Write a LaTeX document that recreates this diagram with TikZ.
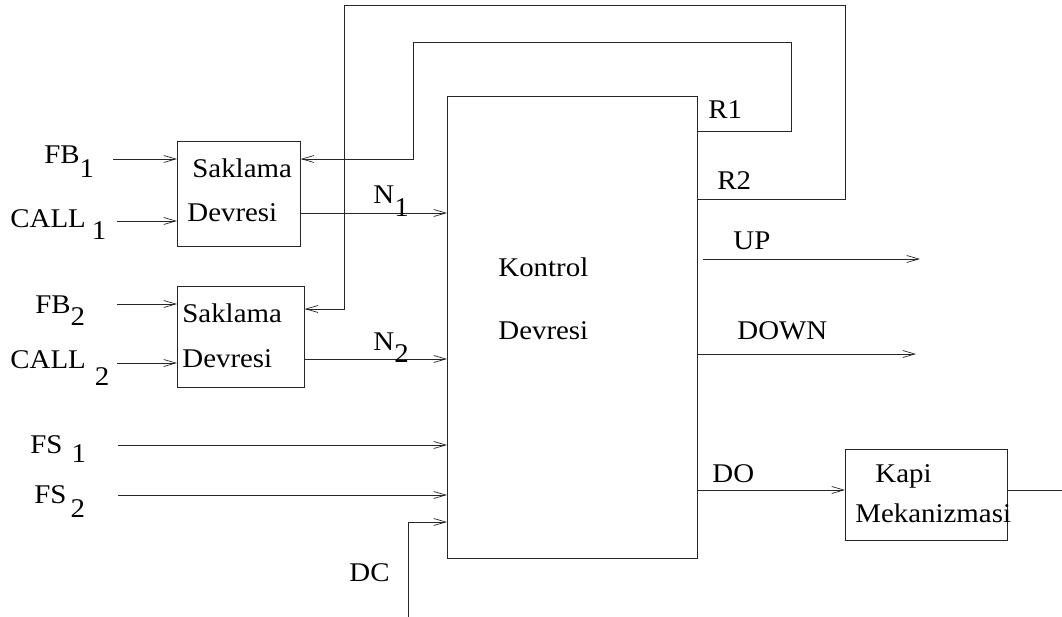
\documentclass[tikz,border=0pt]{standalone}
\usepackage{fontspec}
\setmainfont{Liberation Serif}[FakeStretch=1.07]
\usetikzlibrary{arrows.meta}
\begin{document}
\begin{tikzpicture}[x=1pt,y=-1pt,
  line width=0.8pt, draw=black!85,
  blk/.style={draw, line width=0.8pt, inner sep=0pt, anchor=north west},
  lbl/.style={inner sep=0pt, anchor=base west, font=\fontsize{27}{30}\selectfont},
  arr/.style={-{Straight Barb[length=12pt,width=7pt,line width=0.7pt]}},
  wire/.style={line width=0.8pt}]
\useasboundingbox (0,0) rectangle (1062,617);

% blocks
\node[blk, minimum width=250pt, minimum height=462pt] (kd) at (447,96) {};
\node[blk, minimum width=123pt, minimum height=105pt] (s1) at (177,141) {};
\node[blk, minimum width=127pt, minimum height=101pt] (s2) at (177,286) {};
\node[blk, minimum width=162pt, minimum height=91pt] (kp) at (845,449) {};

% free ends
\coordinate (fb1) at (113,159);
\coordinate (call1) at (117,221);
\coordinate (fb2) at (117,304);
\coordinate (call2) at (117,363);
\coordinate (fs1) at (118,445);
\coordinate (fs2) at (118,495);
\coordinate (dc) at (408,617);
\coordinate (up) at (920,259);
\coordinate (down) at (916,354);
\coordinate (out) at (1062,490);

% inputs
\draw[arr] (fb1) -- (fb1 -| s1.west);
\draw[arr] (call1) -- (call1 -| s1.west);
\draw[arr] (fb2) -- (fb2 -| s2.west);
\draw[arr] (call2) -- (call2 -| s2.west);
\draw[arr] (s1.east |- 0,213) -- (kd.west |- 0,213);
\draw[arr] (s2.east |- 0,359) -- (kd.west |- 0,359);
\draw[arr] (fs1) -- (fs1 -| kd.west);
\draw[arr] (fs2) -- (fs2 -| kd.west);
\draw[arr] (dc) -- (408,522) -- (kd.west |- 0,522);

% feedback loops
\draw[arr] (kd.east |- 0,131) -- (791,131) -- (791,42) -- (413,42) -- (413,159) -- (s1.east |- 0,159);
\draw[arr] (kd.east |- 0,199) -- (845,199) -- (845,5) -- (344,5) -- (344,309) -- (s2.east |- 0,309);

% outputs
\draw[arr] (703,259) -- (up);
\draw[arr] (kd.east |- 0,354) -- (down);
\draw[arr] (kd.east |- 0,490) -- (kp.west |- 0,490);
\draw (kp.east |- 0,490) -- (out);

% labels
\node[lbl] (tfb1) at (44,164) {FB\raisebox{-14pt}{1}};
\node[lbl] (tcall1) at (10,228) {CALL\hspace{6pt}\raisebox{-12pt}{1}};
\node[lbl] (tfb2) at (35,314) {FB\raisebox{-12pt}{2}};
\node[lbl] (tcall2) at (10,368) {CALL\hspace{9pt}\raisebox{-17pt}{2}};
\node[lbl] (tfs1) at (30,453) {FS\hspace{9pt}\raisebox{-9pt}{1}};
\node[lbl] (tfs2) at (34,503) {FS\hspace{4pt}\raisebox{-14pt}{2}};
\node[lbl] (tdc) at (349,581) {DC};

\node[lbl] (ts1a) at (192,178) {Saklama};
\node[lbl] (ts1b) at (187,222) {Devresi};
\node[lbl] (ts2a) at (182,323) {Saklama};
\node[lbl] (ts2b) at (182,367) {Devresi};

\node[lbl] (tn1) at (373,204) {N\raisebox{-13pt}{1}};
\node[lbl] (tn2) at (373,350) {N\raisebox{-13pt}{2}};

\node[lbl] (tk1) at (498,277) {Kontrol};
\node[lbl] (tk2) at (498,340) {Devresi};

\node[lbl] (tr1) at (708,119) {R1};
\node[lbl] (tr2) at (717,190) {R2};
\node[lbl] (tup) at (733,250) {UP};
\node[lbl] (tdown) at (737,340) {DOWN};
\node[lbl] (tdo) at (712,482) {DO};

\node[lbl] (tkp1) at (875,482) {Kapi};
\node[lbl] (tkp2) at (855,522) {Mekanizmasi};
\end{tikzpicture}
\end{document}
